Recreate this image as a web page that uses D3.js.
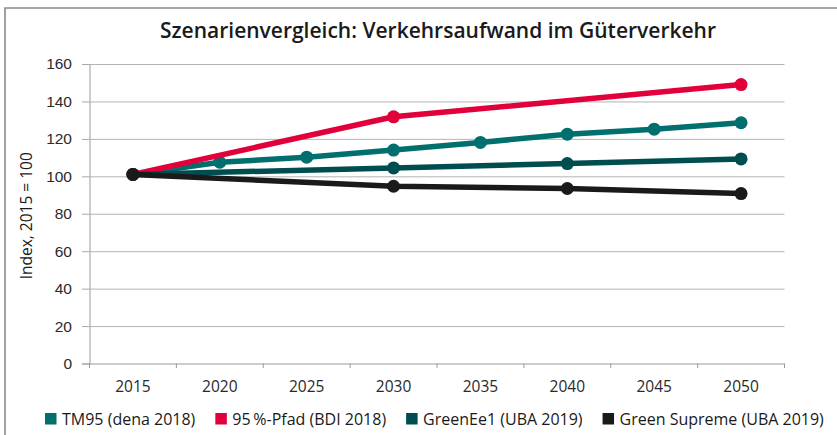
<!DOCTYPE html>
<html>
<head>
<meta charset="utf-8">
<script src="https://cdn.jsdelivr.net/npm/d3@7/dist/d3.min.js"></script>
<style>
  html, body { margin: 0; padding: 0; background: #fff; }
  svg { display: block; font-family: "Open Sans", "Liberation Sans", sans-serif; }
</style>
</head>
<body>
<svg id="chart" width="837" height="435"></svg>
<script>
// Years on the category axis
const years = ["2015", "2020", "2025", "2030", "2035", "2040", "2045", "2050"];
// Index values (2015 = 100); null where a scenario has no value for that year
const tm95        = [101, 107.5, 110.2, 114, 118.1, 122.5, 125.2, 128.6];
const pfad95      = [101, null, null, 131.8, null, null, null, 149];
const greenEe1    = [101, null, null, 104.5, null, 106.8, null, 109.3];
const greenSupreme= [101, null, null, 94.7, null, 93.5, null, 90.8];
const seriesNames = ["TM95 (dena 2018)", "95\u2009%-Pfad (BDI 2018)", "GreenEe1 (UBA 2019)", "Green Supreme (UBA 2019)"];
const seriesColors = ["#006f6e", "#e2003b", "#004d50", "#1a1a1a"];
const yTicks = [0, 20, 40, 60, 80, 100, 120, 140, 160];

const title = "Szenarienvergleich: Verkehrsaufwand im Güterverkehr";
const yLabel = "Index, 2015 = 100";

const svg = d3.select("#chart");
const W = 837, H = 435;
const plot = { left: 89.5, right: 784.5, top: 64, bottom: 363.5 };

// Frame around the figure (left and top edges)
svg.append("path")
  .attr("d", `M5,${H} L5,8 L${W},8`)
  .attr("fill", "none")
  .attr("stroke", "#8a8a8a")
  .attr("stroke-width", 1.6);

// Title
svg.append("text")
  .attr("x", 438).attr("y", 38)
  .attr("text-anchor", "middle")
  .attr("font-size", 21)
  .attr("font-weight", 600)
  .attr("fill", "#1a1a1a")
  .text(title);

const x = d3.scaleBand().domain(years).range([plot.left, plot.right]);
const y = d3.scaleLinear().domain([0, 160]).range([plot.bottom, plot.top]);

// Horizontal gridlines with short ticks to the left of the axis
const yAxis = d3.axisLeft(y).tickValues(yTicks).tickSize(7.5).tickPadding(10).tickFormat(d3.format("d"));
const gy = svg.append("g").attr("transform", `translate(${plot.left},0)`).call(yAxis);
gy.select(".domain").attr("stroke", "#9a9a9a");
gy.selectAll(".tick line").attr("stroke", "#a8a8a8");
gy.selectAll(".tick text").attr("font-size", 15.5).attr("fill", "#2a2a2a").attr("font-family", null);
gy.selectAll(".tick").append("line")
  .attr("x1", 0).attr("x2", plot.right - plot.left)
  .attr("stroke", d => d === 0 ? "#9a9a9a" : "#b4b4b4")
  .attr("stroke-width", 1);

// Category axis: ticks at band boundaries, labels at band centers
const gx = svg.append("g").attr("transform", `translate(0,${plot.bottom})`);
const boundaries = d3.range(years.length + 1).map(i => plot.left + i * x.step());
gx.selectAll("line.tk").data(boundaries).join("line")
  .attr("class", "tk")
  .attr("x1", d => d).attr("x2", d => d)
  .attr("y1", 0).attr("y2", 4.5)
  .attr("stroke", "#9a9a9a");
gx.selectAll("text").data(years).join("text")
  .attr("x", d => x(d) + x.bandwidth() / 2)
  .attr("y", 28.5)
  .attr("text-anchor", "middle")
  .attr("font-size", 15.5)
  .attr("fill", "#2a2a2a")
  .text(d => d);

// Y axis title
svg.append("text")
  .attr("transform", `translate(32,${(plot.top + plot.bottom) / 2 + 2}) rotate(-90)`)
  .attr("text-anchor", "middle")
  .attr("font-size", 15.5)
  .attr("fill", "#1a1a1a")
  .text(yLabel);

// Series lines and markers
const allSeries = [tm95, pfad95, greenEe1, greenSupreme];
const line = d3.line()
  .x(d => x(d.year) + x.bandwidth() / 2)
  .y(d => y(d.value));

allSeries.forEach((vals, i) => {
  const pts = years.map((yr, j) => ({ year: yr, value: vals[j] })).filter(d => d.value != null);
  const g = svg.append("g");
  g.append("path")
    .datum(pts)
    .attr("d", line)
    .attr("fill", "none")
    .attr("stroke", seriesColors[i])
    .attr("stroke-width", 5.5)
    .attr("stroke-linejoin", "round");
  g.selectAll("circle").data(pts).join("circle")
    .attr("cx", d => x(d.year) + x.bandwidth() / 2)
    .attr("cy", d => y(d.value))
    .attr("r", 6.5)
    .attr("fill", seriesColors[i]);
});

// Legend laid out left to right
const legend = svg.append("g").attr("transform", "translate(45,0)");
let lx = 0;
seriesNames.forEach((name, i) => {
  const item = legend.append("g").attr("transform", `translate(${lx},0)`);
  item.append("rect")
    .attr("x", 0).attr("y", 413)
    .attr("width", 11.5).attr("height", 11.5)
    .attr("fill", seriesColors[i]);
  const t = item.append("text")
    .attr("x", 17).attr("y", 425)
    .attr("font-size", 16)
    .attr("fill", "#1a1a1a")
    .text(name);
  lx += 17 + t.node().getComputedTextLength() + 20;
});
</script>
</body>
</html>
